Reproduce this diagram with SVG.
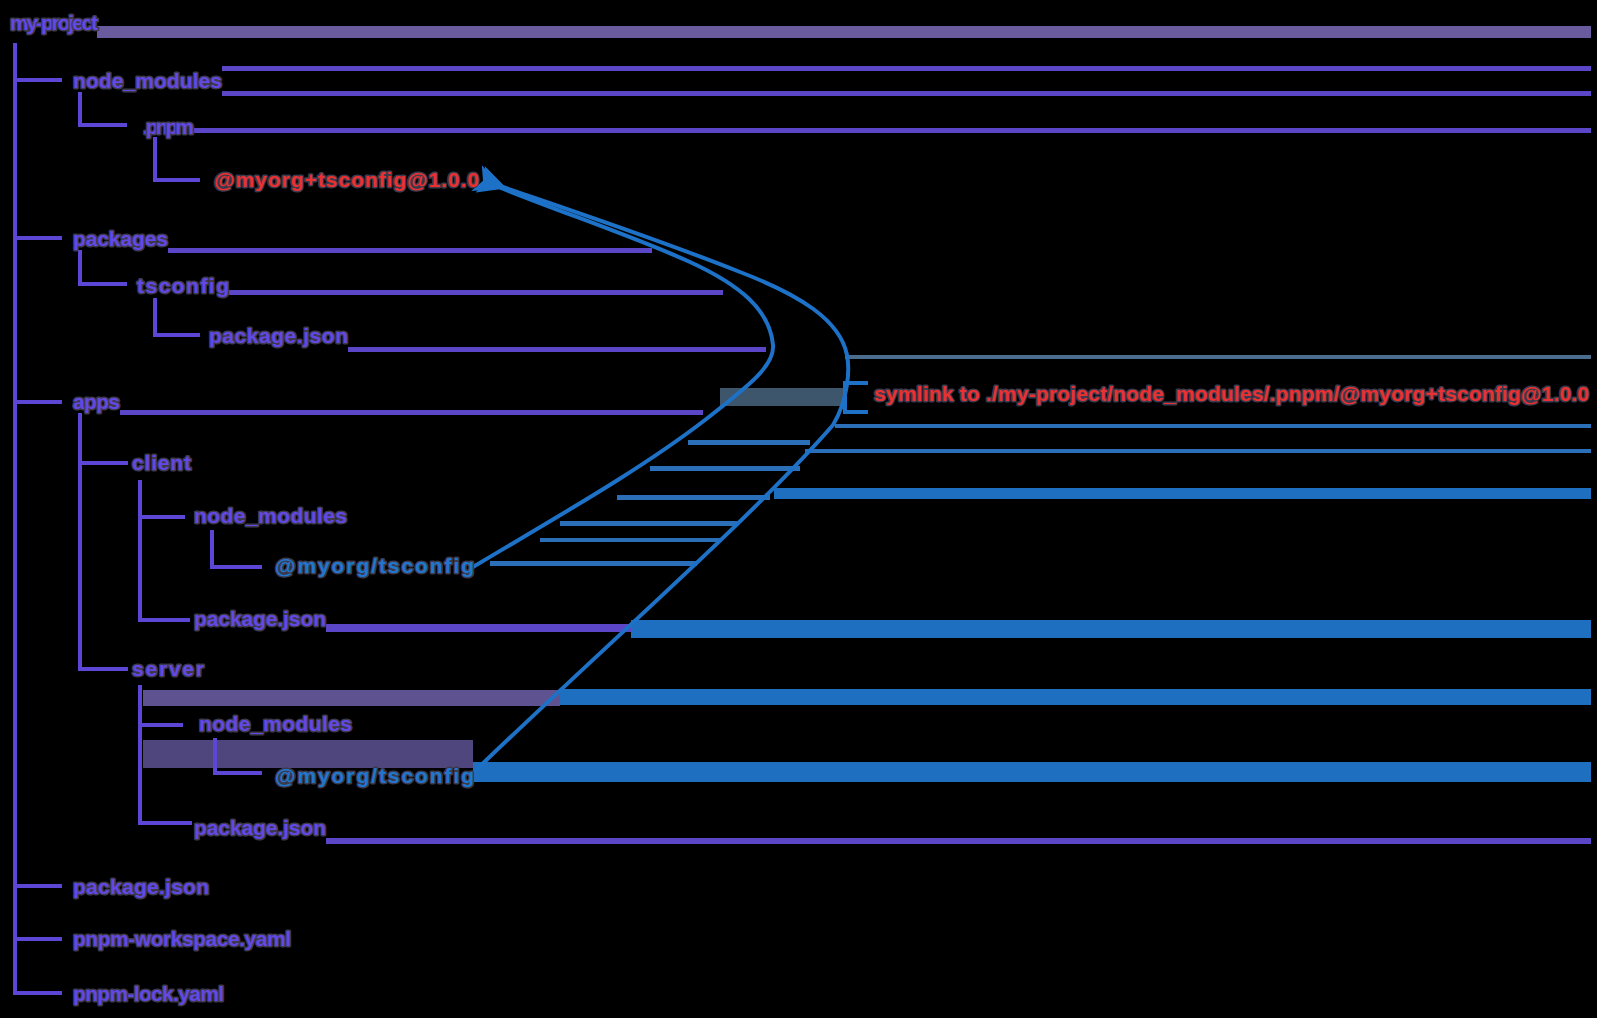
<svg xmlns="http://www.w3.org/2000/svg" width="1597" height="1018" viewBox="0 0 1597 1018">
<defs>
<style>
.t{font-family:"Liberation Sans",Arial,sans-serif;font-size:21px;font-weight:700;paint-order:stroke;stroke:#3c3a4c;stroke-width:3px;stroke-linejoin:round;lengthAdjust:spacingAndGlyphs}
.p{fill:#6448e6}
.r{fill:#ea3030}
.b{fill:#1f78d0}
.tree{fill:none;stroke:#5c46d6;stroke-width:4}
.link{fill:none;stroke:#1d72c8;stroke-width:4}
</style>
<marker id="ah" viewBox="0 0 12 12" refX="3" refY="6" markerWidth="7" markerHeight="7" orient="auto-start-reverse">
<path d="M0 6 L12 0 L9 6 L12 12 Z" fill="#1d72c8"/>
</marker>
</defs>
<rect width="1597" height="1018" fill="#000"/>
<g id="streaks">
<rect x="97" y="26" width="1494" height="12" fill="#6a5a9e"/>
<rect x="222" y="66" width="1369" height="5" fill="#5b46c8"/>
<rect x="222" y="91" width="1369" height="5" fill="#5b46c8"/>
<rect x="194" y="128" width="1397" height="5" fill="#5b46c8"/>
<rect x="168" y="248" width="484" height="5" fill="#5b46c8"/>
<rect x="229" y="290" width="494" height="5" fill="#5b46c8"/>
<rect x="348" y="347" width="418" height="5" fill="#5b46c8"/>
<rect x="120" y="410" width="583" height="5" fill="#5b46c8"/>
<rect x="845" y="355" width="746" height="4" fill="#4a6d8e"/>
<rect x="720" y="388" width="125" height="18" fill="#3e566c"/>
<rect x="835" y="424" width="756" height="4" fill="#2a6fb8"/>
<rect x="805" y="449" width="786" height="4" fill="#2a6fb8"/>
<rect x="774" y="488" width="817" height="11" fill="#1f6fc0"/>
<rect x="688" y="440" width="122" height="5" fill="#2a6fb8"/>
<rect x="650" y="466" width="150" height="5" fill="#2a6fb8"/>
<rect x="617" y="495" width="153" height="5" fill="#2a6fb8"/>
<rect x="560" y="521" width="177" height="5" fill="#2a6fb8"/>
<rect x="540" y="538" width="180" height="4" fill="#2a6fb8"/>
<rect x="490" y="561" width="207" height="5" fill="#2a6fb8"/>
<rect x="326" y="624" width="305" height="8" fill="#5b46c8"/>
<rect x="631" y="620" width="960" height="18" fill="#1f6fc0"/>
<rect x="143" y="690" width="417" height="16" fill="#5e5290"/>
<rect x="560" y="689" width="1031" height="16" fill="#1f6fc0"/>
<rect x="143" y="740" width="330" height="28" fill="#50467e"/>
<rect x="473" y="762" width="1118" height="20" fill="#1f6fc0"/>
<rect x="326" y="838" width="1265" height="6" fill="#5b46c8"/>
</g>
<g id="tree" class="tree">
<path d="M15 43 V995 M15 80 H62 M15 238 H62 M15 402 H62 M15 886 H62 M15 939 H62 M15 993 H62"/>
<path d="M80 92 V125 H127"/>
<path d="M155 137 V180 H200"/>
<path d="M80 250 V284 H127"/>
<path d="M155 298 V335 H200"/>
<path d="M80 413 V669 H128 M80 463 H128"/>
<path d="M140 480 V620 H190 M140 517 H185"/>
<path d="M212 530 V567 H262"/>
<path d="M140 685 V823 H192 M140 725 H183"/>
<path d="M215 738 V773 H262"/>
</g>
<g id="connectors">
<path class="link" d="M473 567 C560 515 640 470 705 420 C750 385 775 365 773 345 C770 310 740 285 690 262 C630 235 560 212 496 186" marker-end="url(#ah)"/>
<path class="link" stroke-width="5" d="M473 773 C600 650 750 520 833 425 C848 400 850 370 847 355 C840 320 800 295 740 272 C660 240 570 210 500 186" marker-end="url(#ah)"/>
<path class="link" stroke-width="3" d="M868 383 H845 V412 H868"/>
</g>
<g id="n-root"><text class="t p" x="10" y="30" textLength="88">my-project</text></g>
<g id="n-node_modules"><text class="t p" x="73" y="88" textLength="149">node_modules</text></g>
<g id="n-pnpm"><text class="t p" x="143" y="134" textLength="51">.pnpm</text></g>
<g id="n-store"><text class="t r" x="214" y="187" textLength="265">@myorg+tsconfig@1.0.0</text></g>
<g id="n-packages"><text class="t p" x="73" y="246" textLength="95">packages</text></g>
<g id="n-tsconfig"><text class="t p" x="137" y="293" textLength="92">tsconfig</text></g>
<g id="n-tsconfig-pkg"><text class="t p" x="209" y="343" textLength="139">package.json</text></g>
<g id="n-apps"><text class="t p" x="73" y="409" textLength="47">apps</text></g>
<g id="n-client"><text class="t p" x="132" y="470" textLength="59">client</text></g>
<g id="n-client-nm"><text class="t p" x="194" y="523" textLength="153">node_modules</text></g>
<g id="n-client-link"><text class="t b" x="275" y="573" textLength="199">@myorg/tsconfig</text></g>
<g id="n-client-pkg"><text class="t p" x="194" y="626" textLength="132">package.json</text></g>
<g id="n-server"><text class="t p" x="132" y="676" textLength="72">server</text></g>
<g id="n-server-nm"><text class="t p" x="199" y="731" textLength="153">node_modules</text></g>
<g id="n-server-link"><text class="t b" x="275" y="783" textLength="199">@myorg/tsconfig</text></g>
<g id="n-server-pkg"><text class="t p" x="194" y="835" textLength="132">package.json</text></g>
<g id="n-root-pkg"><text class="t p" x="73" y="894" textLength="136">package.json</text></g>
<g id="n-workspace"><text class="t p" x="73" y="946" textLength="218">pnpm-workspace.yaml</text></g>
<g id="n-lock"><text class="t p" x="73" y="1001" textLength="151">pnpm-lock.yaml</text></g>
<g id="n-label"><text class="t r" x="874" y="401" textLength="715">symlink to ./my-project/node_modules/.pnpm/@myorg+tsconfig@1.0.0</text></g>
</svg>
